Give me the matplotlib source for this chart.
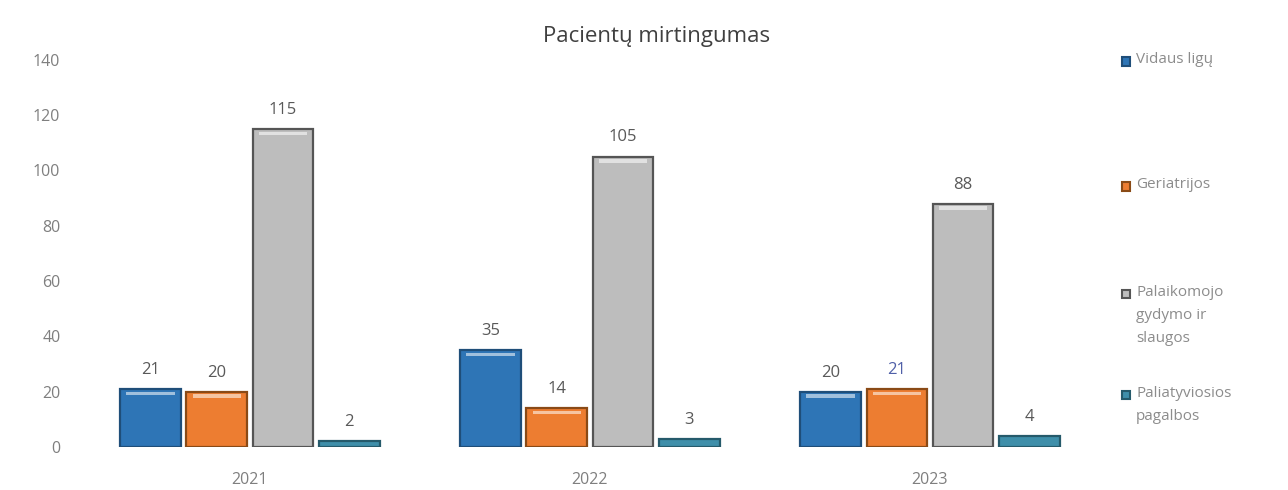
import matplotlib
matplotlib.use("Agg")
import matplotlib.pyplot as plt
import numpy as np
from matplotlib.patches import Rectangle

plt.rcParams['font.family'] = ['Open Sans', 'DejaVu Sans']

years = ["2021", "2022", "2023"]
series_names = ["Vidaus ligų", "Geriatrijos", "Palaikomojo\ngydymo ir\nslaugos", "Paliatyviosios\npagalbos"]
vidaus = [21, 35, 20]
geriatrijos = [20, 14, 21]
palaikomojo = [115, 105, 88]
paliatyviosios = [2, 3, 4]
series_values = [vidaus, geriatrijos, palaikomojo, paliatyviosios]
colors = ["#2E75B6", "#ED7D31", "#BDBDBD", "#3F8FAA"]
edge_colors = ["#1F4E79", "#8A4A16", "#555555", "#255A6B"]
label_colors = ["#595959", "#595959", "#595959", "#595959"]

fig = plt.figure(figsize=(12.88, 4.9), dpi=100)
ax = fig.add_axes([0.062, 0.088, 0.792, 0.79])

x = np.arange(len(years))
width = 0.178
step = 0.195
offsets = (np.arange(4) - 1.5) * step

for i, vals in enumerate(series_values):
    xs = x + offsets[i]
    ax.bar(xs, vals, width, color=colors[i], edgecolor=edge_colors[i], linewidth=1.6, zorder=2)
    # bevel highlight near the top
    ax.bar(xs, [1.2 if v > 5 else 0 for v in vals], width * 0.8,
           bottom=[v - 2.2 for v in vals],
           color="white", alpha=0.55, linewidth=0, zorder=3)
    for j, (xx, v) in enumerate(zip(xs, vals)):
        c = "#5060A8" if (i == 1 and j == 2) else label_colors[i]
        ax.text(xx, v + 4, str(v), ha="center", va="bottom", fontsize=12, color=c)

ax.set_xlim(-0.5, 2.5)
ax.set_ylim(0, 140)
ax.set_yticks(np.arange(0, 141, 20))
ax.set_xticks(x)
ax.set_xticklabels(years)
ax.tick_params(axis="both", length=0, labelsize=11.5, colors="#7F7F7F")
ax.tick_params(axis="y", pad=14)
ax.tick_params(axis="x", pad=18)
for s in ax.spines.values():
    s.set_visible(False)

fig.text(0.51, 0.925, "Pacientų mirtingumas", ha="center", va="center", fontsize=16, color="#404040")

# legend on the right
legend_y = [0.875, 0.62, 0.40, 0.194]
for name, col, ec, ly in zip(series_names, colors, edge_colors, legend_y):
    fig.add_artist(Rectangle((0.871, ly - 0.009), 0.0062, 0.017, transform=fig.transFigure,
                             facecolor=col, edgecolor=ec, linewidth=1.5))
    fig.text(0.882, ly + 0.019, name, ha="left", va="top", fontsize=11, color="#8C8C8C",
             linespacing=1.75)

fig.savefig("out.png", dpi=100, facecolor="white")
